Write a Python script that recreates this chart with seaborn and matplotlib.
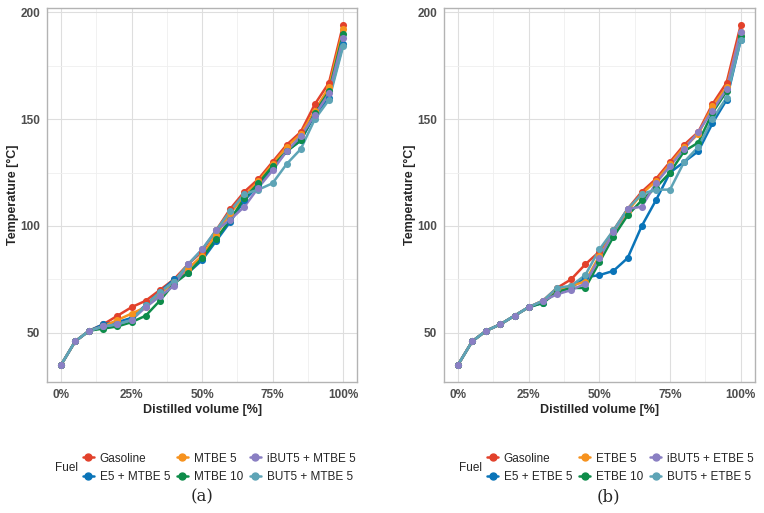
import pandas as pd
import matplotlib
matplotlib.use("Agg")
import matplotlib.pyplot as plt
from matplotlib.lines import Line2D
from matplotlib.ticker import MultipleLocator, PercentFormatter
import seaborn as sns

# distilled volume [%]
volume = list(range(0, 101, 5))

fuels_a = ["Gasoline", "E5 + MTBE 5", "MTBE 5", "MTBE 10", "iBUT5 + MTBE 5", "BUT5 + MTBE 5"]
fuels_b = ["Gasoline", "E5 + ETBE 5", "ETBE 5", "ETBE 10", "iBUT5 + ETBE 5", "BUT5 + ETBE 5"]

# panel (a) temperatures [°C]
gasoline_a = [35, 46, 51, 54, 58, 62, 65, 70, 75, 82, 88, 98, 108, 116, 122, 130, 138, 144, 157, 167, 194]
e5_mtbe5 = [35, 46, 51, 54, 55, 57, 63, 69, 75, 78, 84, 93, 102, 112, 119, 127, 135, 140, 152, 160, 185]
mtbe5 = [35, 46, 51, 53, 56, 59, 62, 68, 74, 80, 86, 96, 106, 114, 121, 129, 137, 143, 154, 165, 192]
mtbe10 = [35, 46, 51, 52, 53, 55, 58, 65, 73, 78, 85, 94, 103, 113, 120, 128, 135, 140, 153, 163, 190]
ibut5_mtbe5 = [35, 46, 51, 53, 54, 56, 62, 67, 72, 82, 89, 98, 103, 109, 118, 126, 135, 142, 152, 162, 188]
but5_mtbe5 = [35, 46, 51, 53, 54, 56, 63, 69, 74, 82, 89, 98, 107, 115, 117, 120, 129, 136, 150, 159, 184]

# panel (b) temperatures [°C]
gasoline_b = [35, 46, 51, 54, 58, 62, 65, 71, 75, 82, 88, 98, 108, 116, 122, 130, 138, 144, 157, 167, 194]
e5_etbe5 = [35, 46, 51, 54, 58, 62, 64, 70, 71, 76, 77, 79, 85, 100, 112, 125, 130, 135, 148, 159, 187]
etbe5 = [35, 46, 51, 54, 58, 62, 65, 70, 72, 74, 86, 97, 107, 115, 121, 129, 137, 143, 156, 165, 191]
etbe10 = [35, 46, 51, 54, 58, 62, 64, 69, 71, 71, 83, 95, 105, 112, 118, 125, 135, 139, 153, 163, 189]
ibut5_etbe5 = [35, 46, 51, 54, 58, 62, 65, 68, 70, 73, 85, 97, 108, 109, 120, 128, 136, 144, 154, 164, 191]
but5_etbe5 = [35, 46, 51, 54, 58, 62, 65, 71, 72, 77, 89, 98, 108, 115, 117, 117, 130, 137, 150, 160, 187]

colors = ["#E2412B", "#0A74B8", "#F6921E", "#0E8C4A", "#8A7FC3", "#5EA4B6"]


def long_form(fuels, series):
    rows = []
    for fuel, temps in zip(fuels, series):
        for v, t in zip(volume, temps):
            rows.append({"Volume": v, "Temperature": t, "Fuel": fuel})
    return pd.DataFrame(rows)


sns.set_theme(style="whitegrid")
plt.rcParams["font.family"] = ["Liberation Sans", "DejaVu Sans"]

fig = plt.figure(figsize=(7.64, 5.13), dpi=100)
ax_a = fig.add_axes([0.0615, 0.2554, 0.406, 0.729])
ax_b = fig.add_axes([0.581, 0.2554, 0.407, 0.729])

panels = [
    (ax_a, fuels_a, [gasoline_a, e5_mtbe5, mtbe5, mtbe10, ibut5_mtbe5, but5_mtbe5], "(a)", 0.265, 0.072),
    (ax_b, fuels_b, [gasoline_b, e5_etbe5, etbe5, etbe10, ibut5_etbe5, but5_etbe5], "(b)", 0.796, 0.601),
]

for ax, fuels, series, caption, cap_x, leg_x in panels:
    df = long_form(fuels, series)
    palette = dict(zip(fuels, colors))
    line_order = fuels
    point_order = fuels[:4] + [fuels[5], fuels[4]]
    for fuel in line_order:
        sns.lineplot(data=df[df["Fuel"] == fuel], x="Volume", y="Temperature",
                     color=palette[fuel], linewidth=1.8, ax=ax, legend=False)
    for fuel in point_order:
        sns.scatterplot(data=df[df["Fuel"] == fuel], x="Volume", y="Temperature",
                        color=palette[fuel], s=26, linewidth=0, ax=ax, legend=False, zorder=3)

    ax.set_xlim(-5, 105)
    ax.set_ylim(27, 202)
    ax.xaxis.set_major_locator(MultipleLocator(25))
    ax.xaxis.set_minor_locator(MultipleLocator(12.5))
    ax.yaxis.set_major_locator(MultipleLocator(50))
    ax.yaxis.set_minor_locator(MultipleLocator(25))
    ax.xaxis.set_major_formatter(PercentFormatter(decimals=0))
    ax.grid(which="major", color="#DEDEDE", linewidth=0.8)
    ax.grid(which="minor", color="#EFEFEF", linewidth=0.6)
    for sp in ax.spines.values():
        sp.set_color("#B3B3B3")
        sp.set_linewidth(1.0)
    ax.tick_params(which="major", length=3, width=0.8, color="#B3B3B3", pad=2,
                   labelsize=8.5, labelcolor="#4D4D4D")
    ax.tick_params(which="minor", length=0)
    for lab in ax.get_xticklabels() + ax.get_yticklabels():
        lab.set_fontweight("bold")
    ax.set_xlabel("Distilled volume [%]", fontsize=9, fontweight="bold", labelpad=2)
    ax.set_ylabel("Temperature [°C]", fontsize=9, fontweight="bold", labelpad=1)

    handles = [Line2D([0], [0], color=palette[f], marker="o", markersize=5, linewidth=1.8)
               for f in fuels]
    fig.legend(handles, fuels, ncol=3, loc="center left", bbox_to_anchor=(leg_x + 0.029, 0.088),
               frameon=False, fontsize=8.5, handlelength=0.9, handletextpad=0.5,
               columnspacing=0.6, labelspacing=0.55, borderpad=0)
    fig.text(leg_x, 0.088, "Fuel", fontsize=8.5, ha="left", va="center")
    fig.text(cap_x, 0.031, caption, fontsize=12, ha="center", va="center",
             family="DejaVu Serif")

fig.savefig("out.png", dpi=100, facecolor="white")
